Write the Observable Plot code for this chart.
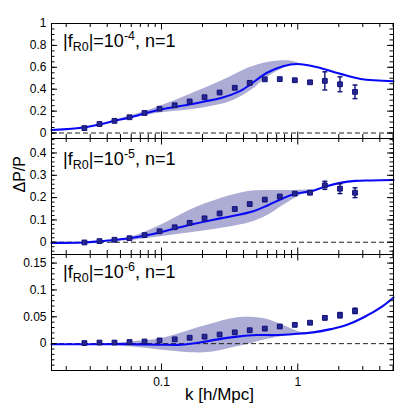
<!DOCTYPE html>
<html><head><meta charset="utf-8">
<script src="https://cdn.jsdelivr.net/npm/d3@7"></script>
<script src="https://cdn.jsdelivr.net/npm/@observablehq/plot@0.6"></script>
<style>
body{margin:0;background:#fff;}
#chart{position:relative;width:415px;height:415px;overflow:hidden;background:#fff;}
#chart svg{position:absolute;left:0;}
</style></head><body><div id="chart"></div>
<script>
// ---- data ----
const kPts = [0.0272, 0.0351, 0.0452, 0.0583, 0.0751, 0.0968, 0.125, 0.161, 0.207, 0.267, 0.345, 0.444, 0.573, 0.738, 0.951, 1.23, 1.58, 2.04, 2.63];

const pts1 = [0.045, 0.082, 0.111, 0.144, 0.183, 0.222, 0.253, 0.288, 0.327, 0.37, 0.413, 0.458, 0.490, 0.492, 0.482, 0.463, 0.476, 0.445, 0.376];
const err1 = [0, 0, 0, 0, 0, 0, 0, 0, 0, 0, 0, 0, 0, 0, 0.005, 0.012, 0.083, 0.068, 0.062];
const pts2 = [-0.001, 0.005, 0.011, 0.018, 0.032, 0.049, 0.067, 0.087, 0.107, 0.129, 0.149, 0.171, 0.191, 0.205, 0.218, 0.222, 0.255, 0.240, 0.222];
const err2 = [0, 0, 0, 0, 0, 0, 0, 0, 0, 0, 0, 0, 0, 0, 0, 0.006, 0.018, 0.022, 0.022];
const pts3 = [0.001, 0.002, 0.002, 0.003, 0.004, 0.006, 0.008, 0.011, 0.013, 0.017, 0.021, 0.025, 0.028, 0.032, 0.035, 0.039, 0.048, 0.053, 0.061];
const err3 = [0, 0, 0, 0, 0, 0, 0, 0, 0, 0, 0, 0, 0, 0, 0, 0.002, 0.003, 0.005, 0.005];

const lineK1 = [0.0156, 0.0272, 0.035, 0.045, 0.059, 0.076, 0.098, 0.163, 0.21, 0.27, 0.38, 0.45, 0.595, 0.78, 1.0, 1.39, 2.05, 2.89, 5.04];
const lineV1 = [0.027, 0.05, 0.078, 0.11, 0.143, 0.18, 0.213, 0.262, 0.29, 0.318, 0.385, 0.445, 0.55, 0.61, 0.63, 0.6, 0.54, 0.494, 0.473];
const lineK2 = [0.0156, 0.0272, 0.035, 0.045, 0.058, 0.076, 0.098, 0.163, 0.271, 0.45, 0.6, 0.78, 0.96, 1.24, 1.6, 2.05, 2.65, 3.4, 5.04];
const lineV2 = [-0.003, -0.001, 0.004, 0.01, 0.018, 0.03, 0.045, 0.078, 0.107, 0.135, 0.165, 0.197, 0.217, 0.228, 0.25, 0.266, 0.275, 0.277, 0.279];
const lineK3 = [0.0156, 0.035, 0.059, 0.098, 0.14, 0.19, 0.26, 0.36, 0.5, 0.68, 0.95, 1.3, 1.75, 2.3, 3.1, 4.2, 5.04];
const lineV3 = [-0.001, -0.001, -0.001, -0.002, -0.002, 0.002, 0.008, 0.013, 0.016, 0.016, 0.018, 0.021, 0.027, 0.035, 0.05, 0.07, 0.086];

const bandK1 = [0.042, 0.06, 0.1, 0.16, 0.27, 0.34, 0.45, 0.6, 0.78, 0.9, 1.05];
const bandLo1 = [0.105, 0.135, 0.185, 0.21, 0.26, 0.3, 0.385, 0.51, 0.59, 0.62, 0.63];
const bandHi1 = [0.105, 0.16, 0.25, 0.35, 0.47, 0.53, 0.6, 0.645, 0.66, 0.655, 0.63];
const bandK2 = [0.03, 0.059, 0.098, 0.163, 0.27, 0.45, 0.6, 0.78, 1.04, 1.34];
const bandLo2 = [0.0, 0.008, 0.025, 0.042, 0.062, 0.089, 0.12, 0.165, 0.21, 0.238];
const bandHi2 = [0.0, 0.022, 0.075, 0.145, 0.195, 0.228, 0.232, 0.232, 0.233, 0.238];
const bandK3 = [0.036, 0.059, 0.098, 0.163, 0.229, 0.337, 0.45, 0.6, 0.786, 1.045, 1.2];
const bandLo3 = [-0.001, -0.006, -0.012, -0.017, -0.016, -0.007, 0.0, 0.008, 0.014, 0.017, 0.017];
const bandHi3 = [-0.001, 0.003, 0.009, 0.025, 0.036, 0.047, 0.049, 0.045, 0.034, 0.021, 0.017];

const xMajor = [0.1, 1];
const xMinor = [0.02, 0.03, 0.04, 0.05, 0.06, 0.07, 0.08, 0.09, 0.2, 0.3, 0.4, 0.5, 0.6, 0.7, 0.8, 0.9, 2, 3, 4, 5];
const xTickLabels = ["0.1", "1"];
const yMajor1 = [0, 0.2, 0.4, 0.6, 0.8, 1];
const yMajor2 = [0, 0.1, 0.2, 0.3, 0.4];
const yMajor3 = [0, 0.05, 0.1, 0.15];
const yLabels1 = ["0", "0.2", "0.4", "0.6", "0.8", "1"];
const yLabels2 = ["0", "0.1", "0.2", "0.3", "0.4"];
const yLabels3 = ["0", "0.05", "0.1", "0.15"];
const exps = ["-4", "-5", "-6"];

// ---- layout / style ----
const W = 415, ML = 51, MR = 22;
const innerW = W - ML - MR;
const xDomain = [0.0156, 5.04];
const font = "'Liberation Sans', Arial, Helvetica, sans-serif";
const navy = "#10107a", navyFill = "#262690", blue = "#0808f5", bandColor = "#acacd4";
const capSymbol = {draw(ctx, size) { const w = Math.sqrt(size / Math.PI); ctx.moveTo(-w, 0); ctx.lineTo(w, 0); }};
const minorRange = (a, b, s) => d3.range(Math.round(a / s), Math.round(b / s) + 1).map(i => +(i * s).toFixed(4));

function panel(o) {
  const innerH = o.height - o.marginTop - o.marginBottom;
  const ptData = kPts.map((k, i) => ({k, v: o.pts[i], e: o.err[i]}));
  const errData = ptData.filter(d => d.e > 0);
  const lineData = o.lineK.map((k, i) => ({k, v: o.lineV[i]}));
  const bandData = o.bandK.map((k, i) => ({k, lo: o.bandLo[i], hi: o.bandHi[i]}));
  const yMinor = minorRange(o.yDomain[0], o.yDomain[1], o.yStep).filter(v => v > o.yDomain[0] && v < o.yDomain[1]);
  const lab = new Map(o.yMajor.map((v, i) => [v, o.yLabels[i]]));
  const marks = [
    Plot.areaY(bandData, {x: "k", y1: "lo", y2: "hi", fill: bandColor, curve: "catmull-rom"}),
    Plot.ruleY([0], {stroke: "#222", strokeWidth: 1, strokeDasharray: "5,3"}),
    Plot.line(lineData, {x: "k", y: "v", stroke: blue, strokeWidth: 2.1, curve: "catmull-rom"}),
    Plot.ruleX(errData, {x: "k", y1: d => d.v - d.e, y2: d => d.v + d.e, stroke: navy, strokeWidth: 1.4}),
    Plot.dot(errData, {x: "k", y: d => d.v - d.e, symbol: capSymbol, r: 2.5, fill: "none", stroke: navy, strokeWidth: 1.4}),
    Plot.dot(errData, {x: "k", y: d => d.v + d.e, symbol: capSymbol, r: 2.5, fill: "none", stroke: navy, strokeWidth: 1.4}),
    Plot.dot(ptData, {x: "k", y: "v", symbol: "square", r: 2.7, fill: navyFill, stroke: navy, strokeWidth: 1}),
    Plot.frame({stroke: "black", strokeWidth: 1}),
    // inward ticks: left/right
    Plot.tickY(o.yMajor, {y: d => d, insetRight: innerW - 6, stroke: "black"}),
    Plot.tickY(o.yMajor, {y: d => d, insetLeft: innerW - 6, stroke: "black"}),
    Plot.tickY(yMinor, {y: d => d, insetRight: innerW - 3.5, stroke: "black"}),
    Plot.tickY(yMinor, {y: d => d, insetLeft: innerW - 3.5, stroke: "black"}),
    // inward ticks: top/bottom
    Plot.tickX(xMajor, {x: d => d, insetBottom: innerH - 6.5, stroke: "black"}),
    Plot.tickX(xMajor, {x: d => d, insetTop: innerH - 6.5, stroke: "black"}),
    Plot.tickX(xMinor, {x: d => d, insetBottom: innerH - 4, stroke: "black"}),
    Plot.tickX(xMinor, {x: d => d, insetTop: innerH - 4, stroke: "black"}),
    Plot.axisY(o.yMajor, {tickSize: 0, tickPadding: 5, fontSize: 12, label: null, tickFormat: d => lab.get(d)}),
    ...(o.extra || [])
  ];
  const svg = Plot.plot({
    width: W, height: o.height,
    marginLeft: ML, marginRight: MR, marginTop: o.marginTop, marginBottom: o.marginBottom,
    x: o.showX ? {type: "log", domain: xDomain} : {type: "log", domain: xDomain, axis: null},
    y: {domain: o.yDomain},
    style: {fontFamily: font, background: "transparent", overflow: "visible", color: "black"},
    marks
  });
  svg.style.top = o.top + "px";
  const t = d3.select(svg).append("text")
    .attr("x", 63).attr("y", o.labelY).attr("text-anchor", "start")
    .attr("font-size", 18).attr("font-family", font).attr("fill", "black");
  t.append("tspan").text("|f");
  t.append("tspan").attr("font-size", 12.5).attr("dy", 4).text("R0");
  t.append("tspan").attr("dy", -4).text("|=10");
  t.append("tspan").attr("font-size", 12.5).attr("dy", -7.5).text(o.exp);
  t.append("tspan").attr("dy", 7.5).text(", n=1");
  document.getElementById("chart").appendChild(svg);
}

panel({top: 0, height: 139, marginTop: 23, marginBottom: 1, yDomain: [-0.05, 1.0], yStep: 0.05,
  yMajor: yMajor1, yLabels: yLabels1, pts: pts1, err: err1, lineK: lineK1, lineV: lineV1,
  bandK: bandK1, bandLo: bandLo1, bandHi: bandHi1, exp: exps[0], labelY: 47});

panel({top: 138, height: 117, marginTop: 0, marginBottom: 1, yDomain: [-0.055, 0.465], yStep: 0.02,
  yMajor: yMajor2, yLabels: yLabels2, pts: pts2, err: err2, lineK: lineK2, lineV: lineV2,
  bandK: bandK2, bandLo: bandLo2, bandHi: bandHi2, exp: exps[1], labelY: 27,
  extra: [Plot.text(["ΔP/P"], {text: d => d, frameAnchor: "left", rotate: -90, dx: -32, dy: -4, fontSize: 16})]});

panel({top: 254, height: 161, marginTop: 0, marginBottom: 45, yDomain: [-0.05, 0.166], yStep: 0.01,
  yMajor: yMajor3, yLabels: yLabels3, pts: pts3, err: err3, lineK: lineK3, lineV: lineV3,
  bandK: bandK3, bandLo: bandLo3, bandHi: bandHi3, exp: exps[2], labelY: 24, showX: true,
  extra: [
    Plot.axisX(xMajor, {tickSize: 0, tickPadding: 7, fontSize: 12, label: null, tickFormat: d => xTickLabels[xMajor.indexOf(d)]}),
    Plot.text(["k [h/Mpc]"], {text: d => d, frameAnchor: "bottom", dx: -3, dy: 29, fontSize: 17})
  ]});
</script></body></html>
